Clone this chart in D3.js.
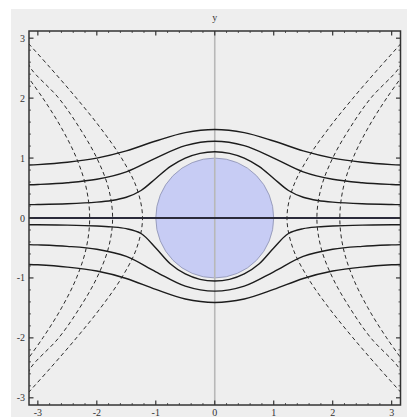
<!DOCTYPE html>
<html>
<head>
<script src="https://cdn.jsdelivr.net/npm/d3@7"></script>
<style>
html, body { margin: 0; padding: 0; background: #ffffff; }
#chart { width: 407px; height: 417px; }
text { font-family: "Liberation Serif", "DejaVu Serif", serif; fill: #333; }
</style>
</head>
<body>
<div id="chart"></div>
<script>
// tick labels
var tickValues = [-3, -2, -1, 0, 1, 2, 3];

// streamlines (solid), right half x >= 0, mirrored for x < 0
var streamC08 = [[0,1.477],[0.5,1.425],[1,1.285],[1.5,1.12],[2,1.0],[2.5,0.931],[3,0.891],[3.2,0.882]];
var streamC05 = [[0,1.281],[0.5,1.207],[1,1.0],[1.5,0.771],[2,0.646],[2.5,0.589],[3,0.56],[3.2,0.553]];
var streamC02 = [[0,1.105],[0.25,1.079],[0.5,1.0],[0.75,0.861],[1,0.66],[1.25,0.459],[1.5,0.346],[1.75,0.292],[2,0.265],[2.5,0.238],[3,0.225],[3.2,0.222]];
var streamCm01 = [[0,-1.051],[0.25,-1.023],[0.5,-0.933],[0.75,-0.767],[1,-0.5],[1.25,-0.259],[1.5,-0.178],[1.75,-0.148],[2,-0.133],[2.5,-0.119],[3,-0.113],[3.2,-0.111]];
var streamCm04 = [[0,-1.22],[0.5,-1.137],[1,-0.897],[1.5,-0.641],[2,-0.522],[2.5,-0.473],[3,-0.449],[3.2,-0.443]];
var streamCm07 = [[0,-1.409],[0.5,-1.351],[1,-1.192],[1.5,-1.009],[2,-0.885],[2.5,-0.819],[3,-0.781],[3.2,-0.774]];
var streamlines = [streamC08, streamC05, streamC02, streamCm01, streamCm04, streamCm07];

// dashed curves, right branch (x > 0), mirrored for the left branch
var dashA = [[3.24,-3],[2.784,-2.5],[2.345,-2],[1.936,-1.5],[1.581,-1],[1.323,-0.5],[1.225,0],[1.323,0.5],[1.581,1],[1.936,1.5],[2.345,2],[2.784,2.5],[3.24,3]];
var dashB = [[3.208,-2.7],[3.122,-2.5],[2.646,-2],[2.291,-1.5],[2.0,-1],[1.803,-0.5],[1.732,0],[1.803,0.5],[2.0,1],[2.291,1.5],[2.646,2],[3.122,2.5],[3.208,2.7]];
var dashC = [[3.279,-2.5],[2.915,-2],[2.598,-1.5],[2.345,-1],[2.179,-0.5],[2.121,0],[2.179,0.5],[2.345,1],[2.598,1.5],[2.915,2],[3.279,2.5]];
var dashCurves = [dashA, dashB, dashC];

// body
var circleRadius = 1;

var width = 407, height = 417;
var margin = {left: 29, top: 31, right: 6.5, bottom: 12};

var svg = d3.select("#chart").append("svg")
    .attr("width", width)
    .attr("height", height);

svg.append("rect")
    .attr("x", 11).attr("y", 9)
    .attr("width", width - 11).attr("height", height - 9)
    .attr("fill", "#eeeeee");

var xScale = d3.scaleLinear().domain([-3.15, 3.15]).range([margin.left, width - margin.right]);
var yScale = d3.scaleLinear().domain([-3.12, 3.12]).range([height - margin.bottom, margin.top]);

svg.append("clipPath").attr("id", "plotClip")
    .append("rect")
    .attr("x", xScale(-3.15)).attr("y", yScale(3.12))
    .attr("width", xScale(3.15) - xScale(-3.15))
    .attr("height", yScale(-3.12) - yScale(3.12));

var plot = svg.append("g").attr("clip-path", "url(#plotClip)");

// circle (body)
plot.append("ellipse")
    .attr("cx", xScale(0)).attr("cy", yScale(0))
    .attr("rx", xScale(circleRadius) - xScale(0))
    .attr("ry", yScale(0) - yScale(circleRadius))
    .attr("fill", "#c7ccf4")
    .attr("stroke", "#8a8fae")
    .attr("stroke-width", 0.8);

// vertical axis
plot.append("line")
    .attr("x1", xScale(0)).attr("x2", xScale(0))
    .attr("y1", yScale(-3.12)).attr("y2", yScale(3.12))
    .attr("stroke", "#b8b8b8")
    .attr("stroke-width", 1.6);

var line = d3.line()
    .x(function(d){ return xScale(d[0]); })
    .y(function(d){ return yScale(d[1]); })
    .curve(d3.curveCatmullRom);

var mirror = function(pts){ return pts.map(function(d){ return [-d[0], d[1]]; }); };

// streamlines: join mirrored left half and right half
streamlines.forEach(function(s){
    var full = mirror(s).reverse().concat(s.slice(1));
    plot.append("path")
        .attr("d", line(full))
        .attr("fill", "none")
        .attr("stroke", "#1c1c1c")
        .attr("stroke-width", 1.4);
});

// dividing streamline along y = 0
plot.append("line")
    .attr("x1", xScale(-3.15)).attr("x2", xScale(3.15))
    .attr("y1", yScale(0)).attr("y2", yScale(0))
    .attr("stroke", "#2a2a3a")
    .attr("stroke-width", 2);

// dashed curves on both sides
dashCurves.forEach(function(c){
    [c, mirror(c)].forEach(function(pts){
        plot.append("path")
            .attr("d", line(pts))
            .attr("fill", "none")
            .attr("stroke", "#2a2a2a")
            .attr("stroke-width", 1)
            .attr("stroke-dasharray", "4,3");
    });
});

// frame
svg.append("rect")
    .attr("x", xScale(-3.15)).attr("y", yScale(3.12))
    .attr("width", xScale(3.15) - xScale(-3.15))
    .attr("height", yScale(-3.12) - yScale(3.12))
    .attr("fill", "none")
    .attr("stroke", "#333")
    .attr("stroke-width", 1.5);

// ticks on all four sides, pointing inward
var minorTicks = d3.range(-30, 31, 2).map(function(i){ return i / 10; })
    .filter(function(v){ return Math.abs(v - Math.round(v)) > 0.01; });

var tickLayer = svg.append("g").attr("stroke", "#333");
function addTicks(values, len, w){
    values.forEach(function(v){
        var xp = xScale(v), yp = yScale(v);
        tickLayer.append("line").attr("x1", xp).attr("x2", xp)
            .attr("y1", yScale(-3.12)).attr("y2", yScale(-3.12) - len).attr("stroke-width", w);
        tickLayer.append("line").attr("x1", xp).attr("x2", xp)
            .attr("y1", yScale(3.12)).attr("y2", yScale(3.12) + len).attr("stroke-width", w);
        tickLayer.append("line").attr("y1", yp).attr("y2", yp)
            .attr("x1", xScale(-3.15)).attr("x2", xScale(-3.15) + len).attr("stroke-width", w);
        tickLayer.append("line").attr("y1", yp).attr("y2", yp)
            .attr("x1", xScale(3.15)).attr("x2", xScale(3.15) - len).attr("stroke-width", w);
    });
}
addTicks(minorTicks, 2, 0.8);
addTicks(tickValues, 4.5, 1.2);

// tick labels
svg.selectAll(".xlab").data(tickValues).enter().append("text")
    .attr("x", function(d){ return xScale(d); })
    .attr("y", 416)
    .attr("text-anchor", "middle")
    .attr("font-size", 10)
    .text(function(d){ return d; });

svg.selectAll(".ylab").data(tickValues).enter().append("text")
    .attr("x", 25)
    .attr("y", function(d){ return yScale(d) + 3.5; })
    .attr("text-anchor", "end")
    .attr("font-size", 10)
    .text(function(d){ return d; });

svg.append("text")
    .attr("x", xScale(0))
    .attr("y", 21)
    .attr("text-anchor", "middle")
    .attr("font-size", 10)
    .text("y");
</script>
</body>
</html>
